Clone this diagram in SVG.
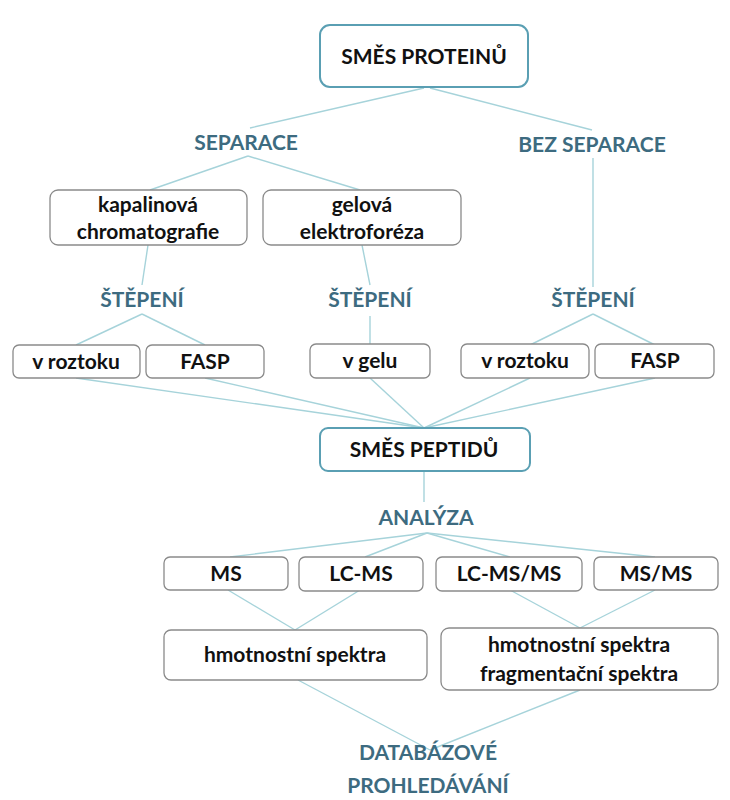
<svg xmlns="http://www.w3.org/2000/svg" width="730" height="800" viewBox="0 0 730 800">
<style>
.b{fill:#fff;stroke:#8a8a8a;stroke-width:1.3}
.m{fill:#fff;stroke:#5a9fb3;stroke-width:2}
text{font-family:Lato,"Open Sans",sans-serif;font-weight:bold;text-anchor:middle}
.t{font-size:21px;fill:#111}
.l{font-size:21px;fill:#3d6b80}
.c line{stroke:#a6d3da;stroke-width:1.4}
</style>
<rect width="730" height="800" fill="#fff"/>
<g class="c">
<line x1="424" y1="88" x2="250" y2="128"/><line x1="430" y1="88" x2="592" y2="130"/>
<line x1="248" y1="156" x2="150" y2="190"/><line x1="248" y1="156" x2="360" y2="190"/>
<line x1="148" y1="245" x2="142" y2="285"/><line x1="362" y1="245" x2="370" y2="285"/>
<line x1="593" y1="158" x2="593" y2="287"/>
<line x1="142" y1="314" x2="76" y2="345"/><line x1="142" y1="314" x2="205" y2="345"/>
<line x1="370" y1="316" x2="370" y2="345"/>
<line x1="593" y1="314" x2="530" y2="345"/><line x1="593" y1="314" x2="655" y2="345"/>
<line x1="76" y1="378" x2="424" y2="428"/><line x1="205" y1="378" x2="424" y2="428"/><line x1="370" y1="378" x2="424" y2="428"/><line x1="530" y1="378" x2="424" y2="428"/><line x1="655" y1="378" x2="424" y2="428"/>
<line x1="424" y1="471" x2="424" y2="502"/>
<line x1="427" y1="533" x2="230" y2="557"/><line x1="427" y1="533" x2="365" y2="557"/><line x1="427" y1="533" x2="510" y2="557"/><line x1="427" y1="533" x2="655" y2="557"/>
<line x1="228" y1="590" x2="295" y2="630"/><line x1="360" y1="590" x2="295" y2="630"/>
<line x1="510" y1="590" x2="580" y2="628"/><line x1="655" y1="590" x2="580" y2="628"/>
<line x1="298" y1="680" x2="430" y2="750"/><line x1="580" y1="690" x2="430" y2="750"/>
</g>
<g id="smes-proteinu"><rect class="m" x="320" y="25" width="208" height="62" rx="10"/><text class="t" x="424" y="64">SMĚS PROTEINŮ</text></g>
<g id="separace"><text class="l" x="246" y="150">SEPARACE</text></g>
<g id="bez-separace"><text class="l" x="592" y="152">BEZ SEPARACE</text></g>
<g id="kapalinova"><rect class="b" x="50" y="190" width="197" height="55" rx="8"/><text class="t" x="148" y="212">kapalinová</text><text class="t" x="148" y="239">chromatografie</text></g>
<g id="gelova"><rect class="b" x="263" y="190" width="198" height="55" rx="8"/><text class="t" x="362" y="212">gelová</text><text class="t" x="362" y="239">elektroforéza</text></g>
<g id="stepeni1"><text class="l" x="142" y="307">ŠTĚPENÍ</text></g>
<g id="stepeni2"><text class="l" x="370" y="307">ŠTĚPENÍ</text></g>
<g id="stepeni3"><text class="l" x="593" y="307">ŠTĚPENÍ</text></g>
<g id="v-roztoku1"><rect class="b" x="13" y="345" width="127" height="33" rx="6"/><text class="t" x="76" y="369">v roztoku</text></g>
<g id="fasp1"><rect class="b" x="146" y="345" width="118" height="33" rx="6"/><text class="t" x="205" y="369">FASP</text></g>
<g id="v-gelu"><rect class="b" x="310" y="344" width="120" height="34" rx="6"/><text class="t" x="370" y="368">v gelu</text></g>
<g id="v-roztoku2"><rect class="b" x="461" y="344" width="128" height="34" rx="6"/><text class="t" x="525" y="368">v roztoku</text></g>
<g id="fasp2"><rect class="b" x="595" y="344" width="119" height="34" rx="6"/><text class="t" x="655" y="368">FASP</text></g>
<g id="smes-peptidu"><rect class="m" x="320" y="428" width="210" height="43" rx="8"/><text class="t" x="424" y="457">SMĚS PEPTIDŮ</text></g>
<g id="analyza"><text class="l" x="426" y="525">ANALÝZA</text></g>
<g id="ms"><rect class="b" x="164" y="557" width="124" height="33" rx="6"/><text class="t" x="226" y="581">MS</text></g>
<g id="lc-ms"><rect class="b" x="299" y="557" width="124" height="34" rx="6"/><text class="t" x="361" y="581">LC-MS</text></g>
<g id="lc-ms-ms"><rect class="b" x="436" y="557" width="146" height="34" rx="6"/><text class="t" x="509" y="581">LC-MS/MS</text></g>
<g id="ms-ms"><rect class="b" x="594" y="557" width="124" height="33" rx="6"/><text class="t" x="656" y="581">MS/MS</text></g>
<g id="hmot1"><rect class="b" x="164" y="630" width="263" height="50" rx="7"/><text class="t" x="295" y="662">hmotnostní spektra</text></g>
<g id="hmot2"><rect class="b" x="441" y="628" width="277" height="62" rx="8"/><text class="t" x="579" y="652">hmotnostní spektra</text><text class="t" x="579" y="681">fragmentační spektra</text></g>
<g id="databazove"><text class="l" x="428" y="760">DATABÁZOVÉ</text><text class="l" x="428" y="793">PROHLEDÁVÁNÍ</text></g>
</svg>
